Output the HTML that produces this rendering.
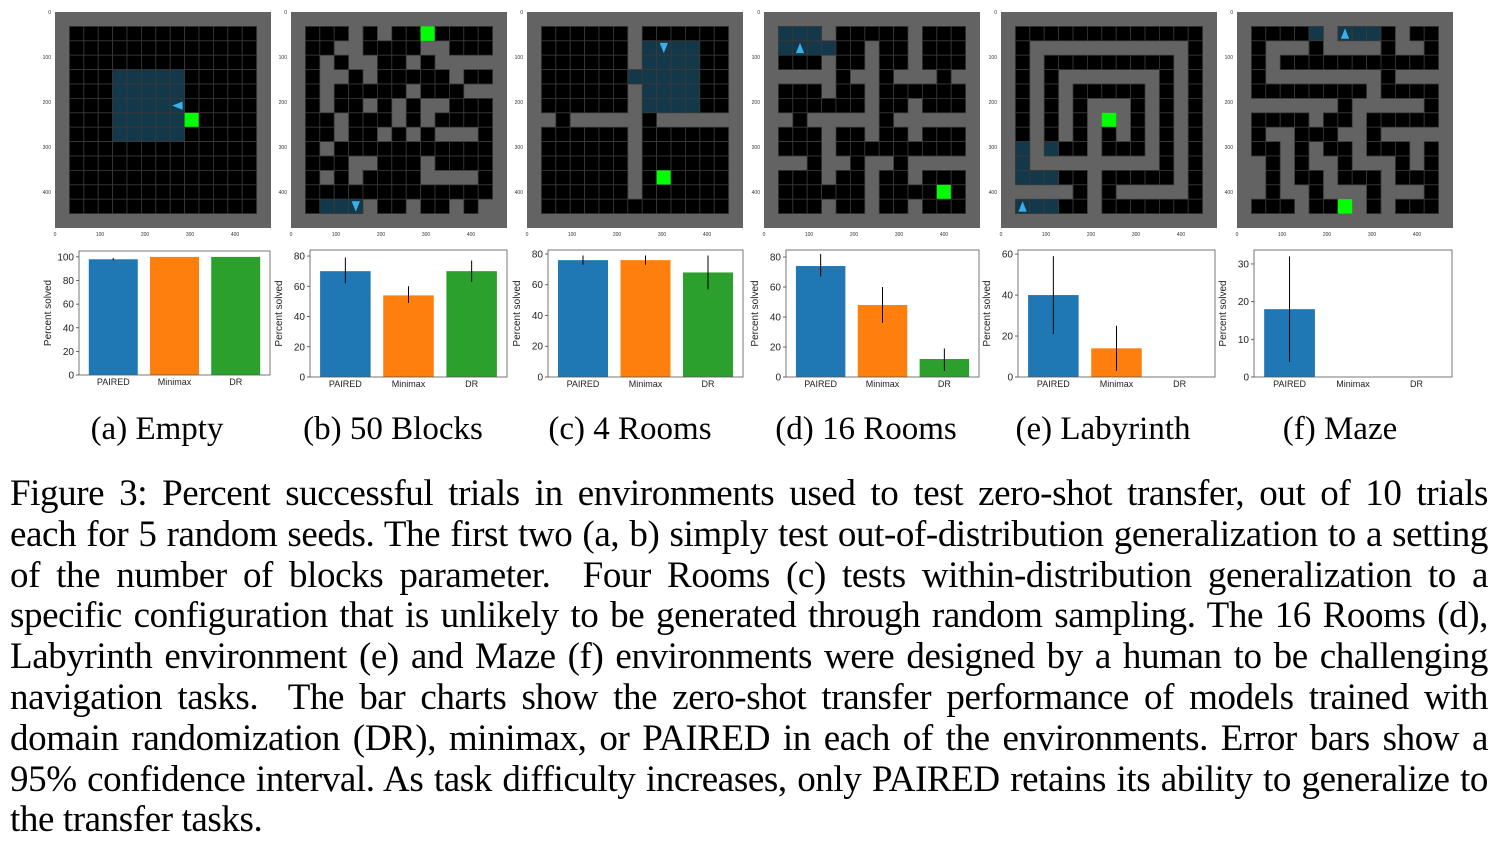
<!DOCTYPE html>
<html><head><meta charset="utf-8"><style>
body{margin:0;background:#fff;width:1511px;height:847px;overflow:hidden;position:relative;font-family:"Liberation Serif",serif;}
svg{position:absolute;left:0;top:0}
.sub{position:absolute;top:409px;font-size:33px;width:300px;text-align:center;line-height:40px;white-space:nowrap}
#caption{position:absolute;left:10px;top:474px;width:1478px;font-size:37px;letter-spacing:-0.4px;line-height:40.8px;color:#000}
#caption div{text-align:justify;text-align-last:justify;white-space:nowrap;height:40.8px}
#caption div.last{text-align-last:left}
</style></head><body>
<svg id="fig" width="1511" height="847"></svg>
<div class="sub" style="left:7px">(a) Empty</div>
<div class="sub" style="left:243px">(b) 50 Blocks</div>
<div class="sub" style="left:480px">(c) 4 Rooms</div>
<div class="sub" style="left:716px">(d) 16 Rooms</div>
<div class="sub" style="left:953px">(e) Labyrinth</div>
<div class="sub" style="left:1190px">(f) Maze</div>
<div id="caption">
<div>Figure 3: Percent successful trials in environments used to test zero-shot transfer, out of 10 trials</div>
<div>each for 5 random seeds. The first two (a, b) simply test out-of-distribution generalization to a setting</div>
<div>of the number of blocks parameter.&nbsp; Four Rooms (c) tests within-distribution generalization to a</div>
<div>specific configuration that is unlikely to be generated through random sampling. The 16 Rooms (d),</div>
<div>Labyrinth environment (e) and Maze (f) environments were designed by a human to be challenging</div>
<div>navigation tasks.&nbsp; The bar charts show the zero-shot transfer performance of models trained with</div>
<div>domain randomization (DR), minimax, or PAIRED in each of the environments. Error bars show a</div>
<div>95% confidence interval. As task difficulty increases, only PAIRED retains its ability to generalize to</div>
<div class="last">the transfer tasks.</div>
</div>
<script>
const categories = ["PAIRED","Minimax","DR"];
const valsA = [98,100,100], loA=[97,100,100], hiA=[99,100,100];
const valsB = [70,54,70], loB=[62,49,63], hiB=[79,60,77];
const valsC = [76,76,68], loC=[73,73,57], hiC=[79,79,79];
const valsD = [74,48,12], loD=[67,36,4], hiD=[82,60,19];
const valsE = [40,14,0], loE=[21,3,0], hiE=[59,25,0];
const valsF = [18,0,0], loF=[4,0,0], hiF=[32,0,0];
const ticksA=[0,20,40,60,80,100], ticksB=[0,20,40,60,80], ticksC=[0,20,40,60,80], ticksD=[0,20,40,60,80], ticksE=[0,20,40,60], ticksF=[0,10,20,30];
const mazeA=["#############","#############","#############","###BBBBB#####","###BBBBB#####","###BBBBB#####","###BBBBBG####","###BBBBB#####","#############","#############","#############","#############","#############"];
const mazeB=["###.#.##G####","##..####..###","#.#..##.#....","#..#.#####.##","#.#####.###..","#.##.#.#..###","##.###.#.####","##.##.#.#...#","#.###########","###..###.####","#.#.####....#","#############","#BBB.##.##.#."];
const mazeC=["######.######","######.BBBB##","######.BBBB##","######BBBBB##","######.BBBB##","######.BBBB##",".#.....#.....","######.######","######.######","######.######","######.#G####","######.######","#############"];
const mazeD=["BBB.#####.###","BBBB##.##.###","###.##.##.###","....#..#...#.","###.##.######","######.##.###",".#.....#.....","###.##.##.###","###.#########","..#..#..#....","###.##.##.###","######.####G#","###.##.##.###"];
const mazeE=["#############","#...........#","#.#########.#","#.#.......#.#","#.#.#####.#.#","#.#.#...#.#.#","#.#.#.G.#.#.#","#.#.#.#.#.#.#","B.B##.###.#.#","B.........#.#","BBB##.#####.#","....#.#.....#","BBB##.#######"];
const mazeF=["####B.BBB#.##","#...#....#..#","#.###########","#........#...","########.####","......#.....#","####.##.#####","#..###..#....","##.#.##.###.#",".#.#..#...#.#",".#.##.###.###",".#..#...#...#","###.##G.#.###"];
const agentA=[7,5,"left"], agentB=[3,12,"down"], agentC=[8,1,"down"], agentD=[1,1,"up"], agentE=[0,12,"up"], agentF=[6,0,"up"];
const gridTicks=[0,100,200,300,400];

const NS="http://www.w3.org/2000/svg";
const svg=document.getElementById("fig");
function mk(t,a,p){const e=document.createElementNS(NS,t);for(const k in a)e.setAttribute(k,a[k]);(p||svg).appendChild(e);return e;}

function drawGrid(x0,maze,agent,name){
  const g=mk("g",{});
  
  
  const y0=12,S=216,c=S/15;
  mk("rect",{x:x0,y:y0,width:S,height:S,fill:"#636363"},g);
  for(let r=0;r<13;r++)for(let q=0;q<13;q++){
    const ch=maze[r][q];
    if(ch==='.')continue;
    const col=ch==='#'?"#000":ch==='B'?"#13384a":"#00ff00";
    const cell=mk("rect",{x:x0+(q+1)*c,y:y0+(r+1)*c,width:c,height:c,fill:col,stroke:ch==='G'?"none":"#3a3a3a","stroke-width":0.8},g);
    
    
  }
  const ax=x0+(agent[0]+1.5)*c, ay=y0+(agent[1]+1.5)*c, h=c*0.36;
  let pts;
  if(agent[2]==="left")pts=[[ax-h,ay],[ax+h,ay-h*0.8],[ax+h,ay+h*0.8]];
  else if(agent[2]==="down")pts=[[ax,ay+h],[ax-h*0.8,ay-h],[ax+h*0.8,ay-h]];
  else pts=[[ax,ay-h],[ax-h*0.8,ay+h],[ax+h*0.8,ay+h]];
  const ag=mk("polygon",{points:pts.map(p=>p.join(",")).join(" "),fill:"#3ab0e8"},g);
  
  
  gridTicks.forEach(t=>{
    const p=t*S/480;
    const ty=mk("text",{x:x0-4,y:y0+p+2,"font-size":5,"text-anchor":"end",fill:"#333","font-family":"Liberation Sans"},g);ty.textContent=t;
    const tx=mk("text",{x:x0+p,y:y0+S+8,"font-size":5,"text-anchor":"middle",fill:"#333","font-family":"Liberation Sans"},g);tx.textContent=t;
  });
}
drawGrid(55,mazeA,agentA,"grid-empty");
drawGrid(291,mazeB,agentB,"grid-50-blocks");
drawGrid(527,mazeC,agentC,"grid-4-rooms");
drawGrid(764,mazeD,agentD,"grid-16-rooms");
drawGrid(1001,mazeE,agentE,"grid-labyrinth");
drawGrid(1237,mazeF,agentF,"grid-maze");

const colors=["#1f77b4","#ff7f0e","#2ca02c"];
function drawChart(box,ymax,vals,lo,hi,ticks,name){
  const [x0,x1,yT,yB]=box;
  const g=mk("g",{});
  
  
  const xs=v=>x0+(v+0.56)/(3.12)*(x1-x0);
  const ys=v=>yB-v/ymax*(yB-yT);
  vals.forEach((v,i)=>{
    const b=mk("rect",{x:xs(i-0.4),y:ys(v),width:xs(i+0.4)-xs(i-0.4),height:yB-ys(v),fill:colors[i]},g);
    
    
    if(hi[i]>lo[i]){
      const e=mk("line",{x1:xs(i),x2:xs(i),y1:ys(lo[i]),y2:ys(hi[i]),stroke:"#000","stroke-width":1},g);
      
      
    }
    const tl=mk("text",{x:xs(i),y:yB+10,"font-size":9,"text-anchor":"middle",fill:"#222","font-family":"Liberation Sans"},g);
    tl.textContent=categories[i];
  });
  mk("rect",{x:x0,y:yT,width:x1-x0,height:yB-yT,fill:"none",stroke:"#555","stroke-width":0.8},g);
  ticks.forEach(t=>{
    mk("line",{x1:x0-3,x2:x0,y1:ys(t),y2:ys(t),stroke:"#444","stroke-width":0.8},g);
    const tt=mk("text",{x:x0-5,y:ys(t)+3.5,"font-size":10,"text-anchor":"end",fill:"#222","font-family":"Liberation Sans"},g);
    tt.textContent=t;
  });
  const yl=mk("text",{x:0,y:0,"font-size":10,"text-anchor":"middle",fill:"#222","font-family":"Liberation Sans",transform:`translate(${x0-28},${(yT+yB)/2}) rotate(-90)`},g);
  
  
  yl.textContent="Percent solved";
}
drawChart([79,270,251,375],105,valsA,loA,hiA,ticksA,"chart-empty");
drawChart([310,507,250,377],84,valsB,loB,hiB,ticksB,"chart-50-blocks");
drawChart([548,743,250,377],82.6,valsC,loC,hiC,ticksC,"chart-4-rooms");
drawChart([786,979,250,377],84.7,valsD,loD,hiD,ticksD,"chart-16-rooms");
drawChart([1018,1215,250,377],62,valsE,loE,hiE,ticksE,"chart-labyrinth");
drawChart([1254,1452,250,377],33.7,valsF,loF,hiF,ticksF,"chart-maze");
</script>
</body></html>
